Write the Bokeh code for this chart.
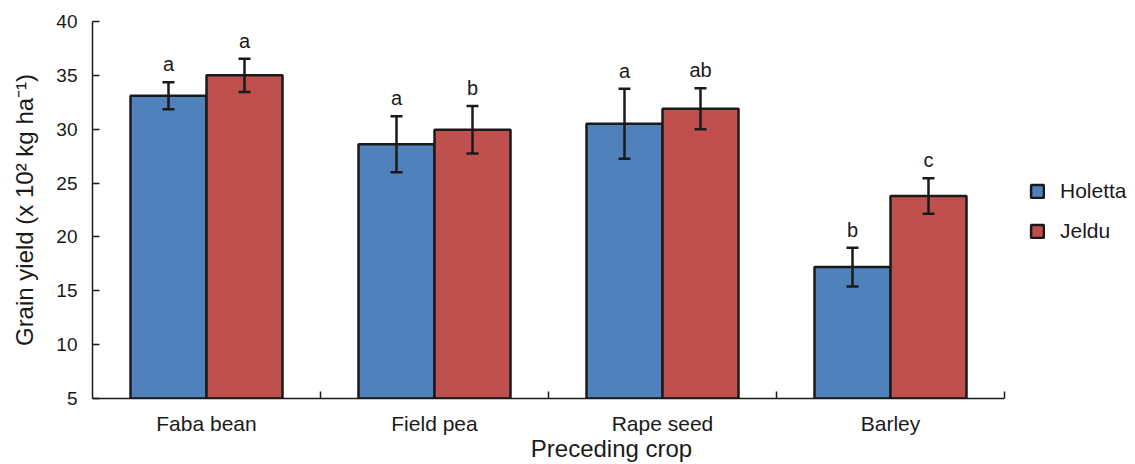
from bokeh.plotting import figure
from bokeh.models import (ColumnDataSource, Whisker, TeeHead, FixedTicker, Legend, LegendItem,
                          Range1d)
from bokeh.core.properties import value
from bokeh.embed import file_html
from bokeh.resources import INLINE

crops = ["Faba bean", "Field pea", "Rape seed", "Barley"]
series = ["Holetta", "Jeldu"]
holetta = [33.1, 28.6, 30.5, 17.2]
holetta_err = [1.25, 2.6, 3.25, 1.8]
holetta_letters = ["a", "a", "a", "b"]
jeldu = [35.0, 29.95, 31.9, 23.8]
jeldu_err = [1.55, 2.2, 1.9, 1.65]
jeldu_letters = ["a", "b", "ab", "c"]
colors = ["#4F81BD", "#C0504D"]
y_ticks = [5, 10, 15, 20, 25, 30, 35, 40]

FONT = "Liberation Sans"
TXT = "#1a1a1a"
BAR_W = 1 / 3

# layout (pixels)
W, H = 1135, 464
LEFT, TOP, BOTTOM, RIGHT = 92, 21, 66, 5
FRAME_W = W - LEFT - RIGHT
CAT_PX = 228  # pixels per category
n = len(crops)

p = figure(width=W, height=H, output_backend="svg", toolbar_location=None,
           x_range=Range1d(0, FRAME_W / CAT_PX), y_range=Range1d(5, 40),
           min_border_left=LEFT, min_border_top=TOP, min_border_bottom=BOTTOM,
           min_border_right=RIGHT)
p.outline_line_color = None
p.xgrid.visible = False
p.ygrid.visible = False
p.background_fill_color = "white"

renderers = []
for k, (name, vals, errs, letters) in enumerate([
        ("Holetta", holetta, holetta_err, holetta_letters),
        ("Jeldu", jeldu, jeldu_err, jeldu_letters)]):
    offset = (k - 0.5) * BAR_W
    xs = [i + 0.5 + offset for i in range(n)]
    src = ColumnDataSource(dict(
        x=xs, top=vals,
        upper=[v + e for v, e in zip(vals, errs)],
        lower=[v - e for v, e in zip(vals, errs)],
        letter=letters))
    r = p.vbar(x="x", top="top", bottom=5, width=BAR_W, source=src,
               fill_color=colors[k], line_color="#1a1a1a", line_width=2.5)
    renderers.append((name, r))
    w = Whisker(base="x", upper="upper", lower="lower", source=src, dimension="height",
                line_color="#1a1a1a", line_width=2.5, level="overlay",
                upper_head=TeeHead(size=12, line_width=2.5, line_color="#1a1a1a"),
                lower_head=TeeHead(size=12, line_width=2.5, line_color="#1a1a1a"))
    p.add_layout(w)
    p.text(x="x", y="upper", text="letter", source=src, y_offset=-7,
           text_align="center", text_baseline="bottom",
           text_font=value(FONT), text_font_size="20px", text_color=TXT)

# x axis
xa = p.xaxis[0]
xa.bounds = (0, n)
xa.ticker = FixedTicker(ticks=[i + 0.5 for i in range(n)],
                        minor_ticks=[i + 1 for i in range(n)])
xa.major_label_overrides = {i + 0.5: c for i, c in enumerate(crops)}
xa.major_tick_in = 0
xa.major_tick_out = 0
xa.minor_tick_in = 7
xa.minor_tick_out = 0
xa.minor_tick_line_width = 1.5
xa.minor_tick_line_color = "#1a1a1a"
xa.axis_line_width = 1.5
xa.axis_line_color = "#1a1a1a"
xa.major_label_text_font = FONT
xa.major_label_text_font_size = "21px"
xa.major_label_text_color = TXT
xa.major_label_standoff = 13
xa.axis_label = "Preceding crop"
xa.axis_label_text_font = FONT
xa.axis_label_text_font_size = "24px"
xa.axis_label_text_font_style = "normal"
xa.axis_label_text_color = TXT
xa.axis_label_standoff = -3

# y axis
ya = p.yaxis[0]
ya.ticker = FixedTicker(ticks=y_ticks)
ya.minor_tick_line_color = None
ya.major_tick_in = 7
ya.major_tick_out = 0
ya.major_tick_line_width = 1.5
ya.major_tick_line_color = "#1a1a1a"
ya.axis_line_width = 1.5
ya.axis_line_color = "#1a1a1a"
ya.major_label_text_font = FONT
ya.major_label_text_font_size = "19px"
ya.major_label_text_color = TXT
ya.major_label_standoff = 15
ya.axis_label = "Grain yield (x 10² kg ha⁻¹)"
ya.axis_label_text_font = FONT
ya.axis_label_text_font_size = "24px"
ya.axis_label_text_font_style = "normal"
ya.axis_label_text_color = TXT
ya.axis_label_standoff = 15

legend = Legend(items=[LegendItem(label=nm, renderers=[r]) for nm, r in renderers],
                location=(937, 155), orientation="vertical",
                glyph_width=16, glyph_height=16, spacing=16,
                label_text_font=FONT, label_text_font_size="21px", label_text_color=TXT,
                label_standoff=15, border_line_color=None, background_fill_alpha=0,
                margin=0, padding=10)
p.add_layout(legend)

open("out.html", "w").write(file_html(p, INLINE))
